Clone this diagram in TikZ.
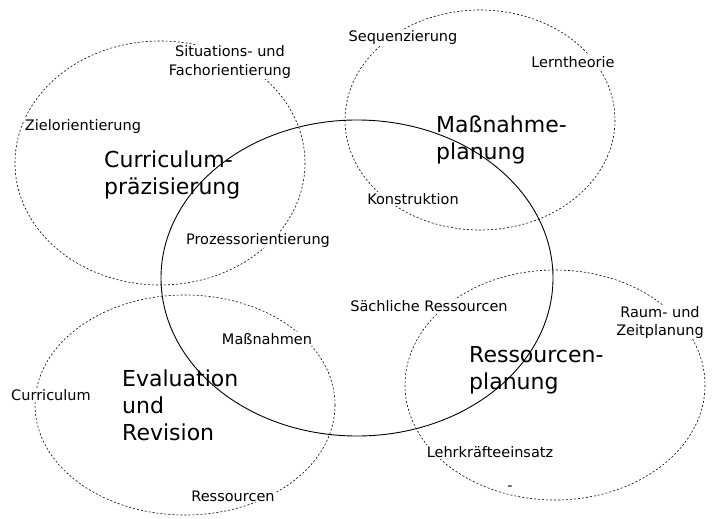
\documentclass[tikz,border=0pt]{standalone}
\usepackage{fontspec}
\setmainfont{DejaVu Sans}
\begin{document}
\begin{tikzpicture}[x=1pt,y=-1pt]
\tikzstyle{every node}+=[inner sep=1pt]
\tikzset{
  area/.style={draw, dashed, dash pattern=on 2pt off 2pt, line width=0.6pt},
  small/.style={font=\fontsize{14.5}{18}\selectfont, fill=white, align=center},
  big/.style={font=\fontsize{22}{27}\selectfont, align=left, anchor=west}
}
\useasboundingbox (0,0) rectangle (720,519);
% areas
\draw [area] (160,163) ellipse (145 and 122);
\draw [area] (480,120) ellipse (135 and 110);
\draw [area] (185,405) ellipse (150 and 110);
\draw [area] (555,385) ellipse (150 and 115);
% cycle
\draw [line width=0.9pt] (357,278) ellipse (196 and 158);
% main fields
\node [big] (cur) at (103,175) {Curriculum-\\präzisierung};
\node [big] (mas) at (435,140) {Maßnahme-\\planung};
\node [big] (res) at (468,370) {Ressourcen-\\planung};
\node [big] (eva) at (121,405) {Evaluation\\und\\Revision};
% aspects
\node [small] (sit) at (230,62) {Situations- und\\Fachorientierung};
\node [small] (ziel) at (83,126) {Zielorientierung};
\node [small] (proz) at (258,240) {Prozessorientierung};
\node [small] (seq) at (403,38) {Sequenzierung};
\node [small] (lern) at (573,62) {Lerntheorie};
\node [small] (kon) at (413,199) {Konstruktion};
\node [small] (sach) at (429,306) {Sächliche Ressourcen};
\node [small] (raum) at (660,322) {Raum- und\\Zeitplanung};
\node [small] (lehr) at (490,452) {Lehrkräfteeinsatz};
\node [small] (dash) at (510,488) {-};
\node [small] (mn) at (267,339) {Maßnahmen};
\node [small] (curr) at (51,395) {Curriculum};
\node [small] (ress) at (233,496) {Ressourcen};
\end{tikzpicture}
\end{document}
